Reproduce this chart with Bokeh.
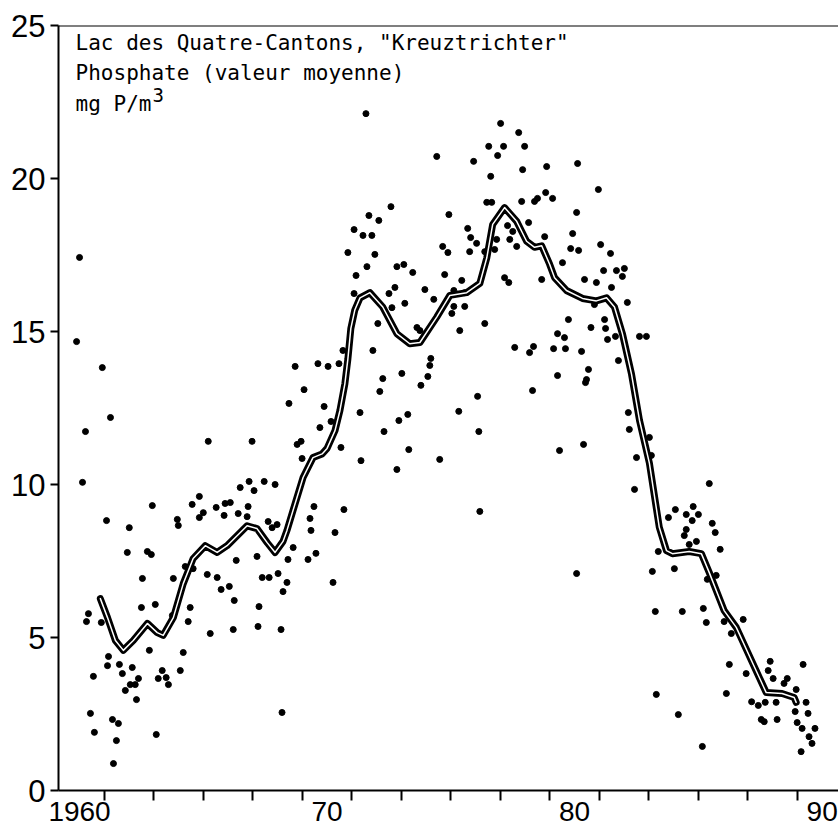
from bokeh.plotting import figure
from bokeh.models import FixedTicker, Span, Label, Range1d
from bokeh.embed import file_html
from bokeh.resources import INLINE

# Individual phosphate measurements (year, mg P/m3)
sample_year = [
    1960.00, 1959.88, 1960.92, 1961.25, 1960.24, 1965.20, 1960.12, 1964.84, 1964.55, 1962.94,
    1965.52, 1965.88, 1966.09, 1965.00, 1964.84, 1965.84, 1966.41, 1966.81, 1969.47, 1970.68,
    1961.09, 1962.01, 1963.95, 1963.99, 1966.77, 1967.62, 1967.98, 1967.78, 1969.31, 1969.35,
    1970.32, 1961.93, 1962.74, 1962.90, 1967.17, 1968.63, 1969.55, 1966.33, 1968.42, 1969.23,
    1964.27, 1964.59, 1965.16, 1965.56, 1967.38, 1967.66, 1968.02, 1962.54, 1963.79, 1968.38,
    1970.24, 1965.72, 1966.05, 1968.22, 1966.25, 1963.06, 1962.50, 1964.47, 1967.25, 1960.36,
    1960.28, 1960.88, 1963.75, 1964.39, 1965.28, 1966.21, 1967.21, 1968.14, 1962.82, 1964.19,
    1961.17, 1961.13, 1961.61, 1961.73, 1962.13, 1960.56, 1962.38, 1963.34, 1964.07, 1963.18,
    1963.50, 1962.05, 1962.25, 1963.59, 1961.85, 1962.30, 1968.18, 1960.44, 1961.33, 1961.57,
    1960.60, 1961.49, 1963.10, 1961.37,
    1968.46, 1969.88, 1969.71, 1970.16, 1966.97, 1968.79, 1968.95, 1968.99, 1970.56, 1971.33,
    1975.32, 1973.26, 1972.90, 1972.30, 1976.13, 1973.30, 1971.37, 1972.82, 1974.55, 1966.85,
    1967.46, 1967.90, 1966.49, 1967.05, 1976.17,
    1971.57, 1977.01, 1977.74, 1976.53, 1977.13, 1977.98, 1976.89, 1974.43, 1975.92, 1978.87,
    1977.90, 1976.61, 1978.83, 1976.45, 1976.65, 1977.86, 1978.38, 1978.50, 1972.58, 1971.69,
    1972.09, 1974.92, 1971.09, 1971.45, 1971.81, 1975.68, 1978.14, 1977.29, 1975.80, 1976.04,
    1976.85, 1977.38, 1977.66, 1978.79, 1974.67, 1970.84, 1971.93, 1974.88, 1975.76, 1976.37,
    1976.77, 1971.61, 1972.82, 1973.10, 1971.17, 1973.46, 1974.75, 1977.17, 1977.34, 1978.67,
    1975.44, 1972.74, 1972.50, 1973.95, 1971.09, 1974.31, 1975.12, 1975.56, 1972.62, 1973.14,
    1975.12, 1975.56, 1975.04, 1972.05, 1976.37, 1975.36, 1973.63, 1973.75, 1970.64, 1971.85,
    1974.19, 1974.15, 1977.58, 1978.34, 1978.18, 1968.71, 1969.63, 1970.04, 1970.48, 1973.02,
    1974.07, 1972.25, 1969.07, 1972.13, 1973.79, 1976.08, 1978.30,
    1980.12, 1980.96, 1979.11, 1980.08, 1977.50, 1979.92, 1981.05, 1979.84, 1980.16, 1981.45,
    1979.51, 1982.01, 1981.69, 1981.17, 1981.93, 1980.40, 1980.88, 1981.49, 1982.13, 1980.80,
    1979.75, 1981.21, 1980.66, 1981.25, 1979.31, 1979.59, 1981.65, 1981.33, 1982.62, 1982.90,
    1979.15, 1979.63, 1980.28, 1981.77, 1980.56, 1979.31, 1980.48,
    1980.44, 1982.17, 1982.21, 1980.36, 1979.39, 1983.02, 1982.50, 1983.10, 1982.42, 1985.44,
    1984.07, 1984.79, 1983.79, 1984.51, 1985.00, 1984.75, 1985.56, 1984.51, 1984.43, 1985.68,
    1984.63, 1984.92, 1985.88, 1983.38, 1984.03, 1983.14, 1980.08, 1985.36, 1985.72, 1983.26,
    1984.35, 1985.20, 1985.32, 1986.04, 1986.81, 1986.33, 1986.25, 1986.93, 1987.90, 1987.82,
    1989.23, 1988.02, 1988.59, 1988.46, 1988.95, 1987.15, 1987.42, 1987.70, 1988.14, 1989.35,
    1988.91, 1989.43, 1983.30, 1986.13, 1987.54, 1987.66, 1988.18, 1988.99, 1989.19, 1989.71,
    1984.19, 1989.47, 1989.59, 1985.16, 1989.15,
]
phosphate = [
    17.42, 14.67, 13.82, 12.19, 11.73, 11.41, 10.07, 9.61, 9.35, 9.31,
    9.25, 9.38, 9.41, 9.08, 8.92, 8.99, 9.05, 9.28, 9.28, 9.18,
    8.82, 8.59, 8.86, 8.66, 8.95, 8.79, 8.69, 8.59, 8.89, 8.50,
    8.43, 7.78, 7.81, 7.71, 7.65, 7.94, 7.75, 7.52, 7.55, 7.55,
    7.32, 7.25, 7.06, 6.96, 6.96, 6.96, 7.09, 6.93, 6.93, 6.80,
    6.80, 6.57, 6.67, 6.50, 6.21, 6.08, 5.98, 5.98, 6.01, 5.78,
    5.52, 5.49, 5.72, 5.52, 5.13, 5.26, 5.36, 5.26, 4.58, 4.51,
    4.38, 4.08, 4.12, 3.82, 4.02, 3.73, 3.66, 3.92, 3.92, 3.66,
    3.69, 3.46, 3.46, 3.46, 3.27, 2.97, 2.55, 2.52, 2.32, 2.19,
    1.90, 1.63, 1.83, 0.88,
    12.65, 12.55, 11.86, 12.06, 11.41, 11.31, 11.41, 10.85, 11.21, 12.35,
    12.39, 12.29, 12.09, 11.73, 11.73, 11.14, 10.78, 10.49, 10.82, 10.10,
    10.10, 10.00, 9.90, 9.80, 9.12,
    22.12, 21.80, 21.50, 21.05, 21.05, 21.05, 20.75, 20.72, 20.56, 20.39,
    20.29, 20.07, 19.54, 19.22, 19.22, 19.25, 19.25, 19.35, 19.08, 18.79,
    18.63, 18.82, 18.33, 18.14, 18.14, 18.37, 18.56, 18.46, 18.07, 17.88,
    18.01, 18.01, 17.78, 18.10, 17.78, 17.58, 17.52, 17.58, 17.61, 17.61,
    17.68, 17.12, 17.12, 17.19, 16.83, 16.93, 16.86, 16.76, 16.60, 16.70,
    16.67, 16.44, 16.24, 16.37, 16.24, 16.05, 16.34, 16.27, 15.78, 15.92,
    15.82, 15.82, 15.59, 15.26, 15.26, 15.03, 15.13, 15.03, 14.38, 14.38,
    14.12, 13.89, 14.48, 14.51, 14.31, 13.86, 13.95, 13.86, 13.95, 13.63,
    13.53, 13.46, 13.10, 13.04, 13.24, 12.88, 13.07,
    20.49, 19.64, 19.35, 18.89, 18.27, 18.20, 17.84, 17.71, 17.65, 17.55,
    17.25, 17.06, 16.99, 16.99, 16.80, 16.70, 16.60, 16.44, 15.95, 15.88,
    15.39, 15.39, 15.13, 15.10, 14.93, 14.80, 14.84, 14.74, 14.84, 14.84,
    14.44, 14.44, 14.35, 14.05, 13.76, 13.56, 13.43,
    13.33, 12.35, 11.80, 11.31, 11.11, 11.54, 10.88, 10.95, 9.84, 10.03,
    9.18, 9.28, 8.92, 9.02, 9.02, 8.82, 8.73, 8.53, 8.33, 8.43,
    8.04, 8.14, 7.88, 7.81, 7.25, 7.16, 7.09, 6.90, 7.03, 5.85,
    5.85, 5.95, 5.49, 5.52, 5.59, 5.13, 4.12, 3.82, 4.22, 3.92,
    4.12, 3.66, 3.66, 3.50, 3.30, 2.90, 2.78, 2.88, 2.88, 2.88,
    2.58, 2.52, 3.14, 3.17, 2.32, 2.25, 2.32, 2.22, 2.03, 2.03,
    2.48, 1.76, 1.54, 1.44, 1.27,
]

# Smoothed mean curve
trend_year = [
    1960.84, 1961.13, 1961.45, 1961.77, 1962.17, 1962.74, 1963.14, 1963.38, 1963.79, 1964.19,
    1964.59, 1965.08, 1965.56, 1965.96, 1966.77, 1967.17, 1967.58, 1967.90, 1968.22, 1968.38,
    1968.71, 1969.03, 1969.43, 1969.80, 1970.00, 1970.32, 1970.52, 1970.72, 1970.84, 1970.96,
    1971.12, 1971.33, 1971.73, 1972.25, 1972.82, 1973.34, 1973.75, 1974.43, 1974.96, 1975.64,
    1976.17, 1976.45, 1976.69, 1977.17, 1977.66, 1978.06, 1978.38, 1978.67, 1978.99, 1979.19,
    1979.67, 1980.32, 1980.88, 1981.29, 1981.61, 1981.93, 1982.30, 1982.62, 1983.02, 1983.42,
    1983.71, 1983.95, 1984.63, 1985.12, 1985.44, 1986.04, 1986.53, 1987.33, 1987.74, 1988.38,
    1988.87, 1988.95,
]
trend_value = [
    6.27, 5.65, 4.90, 4.58, 4.90, 5.46, 5.16, 5.07, 5.65, 6.76,
    7.58, 8.00, 7.78, 8.00, 8.65, 8.56, 8.10, 7.78, 8.14, 8.50,
    9.38, 10.23, 10.88, 11.00, 11.18, 11.76, 12.42, 13.30, 14.10, 15.10,
    15.70, 16.10, 16.27, 15.80, 14.93, 14.60, 14.64, 15.47, 16.18, 16.27,
    16.57, 17.40, 18.50, 19.05, 18.60, 17.95, 17.75, 17.80, 17.20, 16.76,
    16.34, 16.08, 16.00, 16.10, 15.80, 14.93, 13.60, 12.10, 10.70, 8.60,
    7.84, 7.74, 7.81, 7.74, 7.12, 5.88, 5.33, 3.92, 3.20, 3.17,
    3.04, 2.88,
]

decade_ticks = [1960, 1970, 1980, 1990]
decade_labels = {1960: "1960", 1970: "70", 1980: "80", 1990: "90"}
odd_years = list(range(1961, 1990, 2))
value_ticks = [0, 5, 10, 15, 20, 25]

title_lines = [
    'Lac des Quatre-Cantons, "Kreuztrichter"',
    "Phosphate (valeur moyenne)",
    "mg P/m",
]

p = figure(
    width=838, height=828,
    output_backend="svg", toolbar_location=None,
    x_range=Range1d(1959.15, 1990.66), y_range=Range1d(0, 25),
    min_border_left=58, min_border_right=0, min_border_top=25, min_border_bottom=38,
    background_fill_color="white", border_fill_color="white",
)
p.outline_line_color = None
p.grid.grid_line_color = None

# x axis: decade labels, small ticks every other year
xa = p.xaxis[0]
xa.ticker = FixedTicker(ticks=decade_ticks, minor_ticks=odd_years)
xa.major_label_overrides = decade_labels
xa.major_tick_line_color = None
xa.major_tick_out = 0
xa.major_tick_in = 0
xa.minor_tick_out = 10
xa.minor_tick_in = 0
xa.minor_tick_line_width = 2
xa.minor_tick_line_color = "black"
xa.axis_line_width = 2
xa.axis_line_color = "black"
xa.major_label_standoff = 1
xa.major_label_text_font = "Liberation Sans"
xa.major_label_text_font_size = "28px"
xa.major_label_text_color = "black"

ya = p.yaxis[0]
ya.ticker = FixedTicker(ticks=value_ticks)
ya.minor_tick_line_color = None
ya.major_tick_out = 8
ya.major_tick_in = 0
ya.major_tick_line_width = 2
ya.major_tick_line_color = "black"
ya.axis_line_width = 2
ya.axis_line_color = "black"
ya.major_label_standoff = 5
ya.major_label_text_font = "Liberation Sans"
ya.major_label_text_font_size = "31px"
ya.major_label_text_color = "black"

# top frame line
p.add_layout(Span(location=25, dimension="width", line_color="black", line_width=2))

# measurements
p.scatter(sample_year, phosphate, size=6, color="black", line_color="black")

# double-stroked smoothed curve
p.line(trend_year, trend_value, line_color="black", line_width=7, line_join="round", line_cap="round")
p.line(trend_year, trend_value, line_color="white", line_width=1.5, line_join="round", line_cap="round")

# heading
title_y = [24.44, 23.46, 22.45]
for txt, ty in zip(title_lines, title_y):
    p.add_layout(Label(x=1959.84, y=ty, text=txt, text_font="DejaVu Sans Mono",
                       text_font_size="21px", text_baseline="middle", text_color="black"))
p.add_layout(Label(x=1959.84, y=22.45, x_offset=77, y_offset=9, text="3",
                   text_font="DejaVu Sans Mono", text_font_size="19px",
                   text_baseline="middle", text_color="black"))

open("out.html", "w").write(file_html(p, INLINE))
